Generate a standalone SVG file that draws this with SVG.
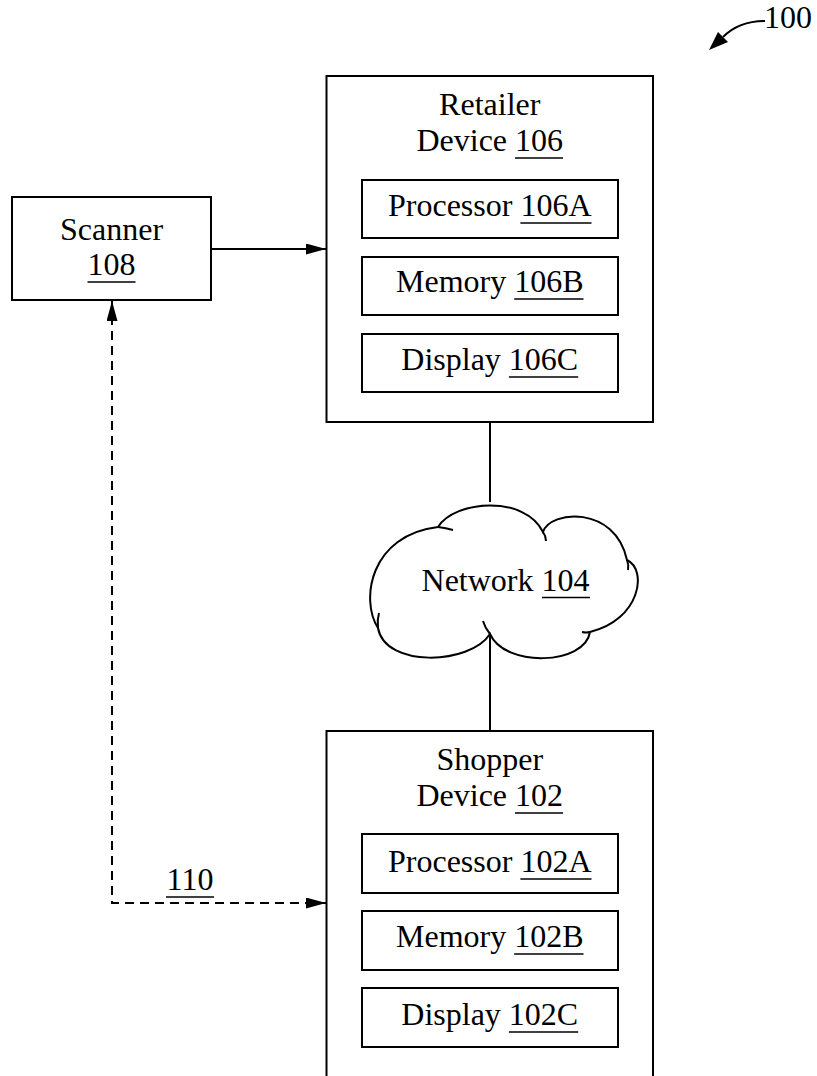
<svg xmlns="http://www.w3.org/2000/svg" width="817" height="1076" viewBox="0 0 817 1076">
  <style>
    .box { fill: #fff; stroke: #000; stroke-width: 2; }
    .ln { fill: none; stroke: #000; stroke-width: 2; }
    .dash { fill: none; stroke: #000; stroke-width: 2; stroke-dasharray: 9 6; }
    .ul { stroke: #000; stroke-width: 1.6; }
    text { font-family: "Liberation Serif", "Times New Roman", serif; font-size: 32px; fill: #000; }
    .c { text-anchor: middle; }
  </style>
  <defs>
    <marker id="arrow" viewBox="0 0 20 11" refX="20" refY="5.5" markerWidth="20" markerHeight="11" markerUnits="userSpaceOnUse" orient="auto-start-reverse">
      <path d="M0,0 L20,5.5 L0,11 Z" fill="#000"/>
    </marker>
  </defs>

  <!-- figure reference label -->
  <g id="ref-100">
    <text x="764" y="28">100</text>
    <path class="ln" d="M765,21 C746,21 733,27 723,37"/>
    <path d="M709,50 L718,32 L728,42 Z" fill="#000"/>
  </g>

  <!-- connectors -->
  <g id="connectors">
    <path class="ln" d="M211,249 L326,249" marker-end="url(#arrow)"/>
    <path class="ln" d="M490,422 L490,502"/>
    <path class="ln" d="M490,634 L490,731"/>
    <path class="dash" d="M112,301 L112,903 L326,903" marker-start="url(#arrow)" marker-end="url(#arrow)"/>
    <text class="c" x="190" y="890">110</text>
    <line class="ul" x1="166" y1="897" x2="214" y2="897"/>
  </g>

  <!-- scanner -->
  <g id="scanner-108">
    <rect class="box" x="12" y="197" width="199" height="103"/>
    <text class="c" x="111.5" y="240">Scanner</text>
    <text class="c" x="111.5" y="275">108</text>
    <line class="ul" x1="87.5" y1="282" x2="135.5" y2="282"/>
  </g>

  <!-- retailer device -->
  <g id="retailer-device-106">
    <rect class="box" x="326.5" y="76" width="326.5" height="346"/>
    <text class="c" x="489.75" y="115">Retailer</text>
    <text class="c" x="489.75" y="151">Device 106</text>
    <line class="ul" x1="515" y1="158" x2="563" y2="158"/>
  </g>
  <g id="processor-106A">
    <rect class="box" x="362" y="180" width="256" height="58"/>
    <text class="c" x="489.75" y="216">Processor 106A</text>
    <line class="ul" x1="520.4" y1="223" x2="591.5" y2="223"/>
  </g>
  <g id="memory-106B">
    <rect class="box" x="362" y="257" width="256" height="58"/>
    <text class="c" x="489.75" y="292">Memory 106B</text>
    <line class="ul" x1="514.2" y1="299" x2="583.5" y2="299"/>
  </g>
  <g id="display-106C">
    <rect class="box" x="362" y="334" width="256" height="58"/>
    <text class="c" x="489.75" y="370">Display 106C</text>
    <line class="ul" x1="508.9" y1="377" x2="578.2" y2="377"/>
  </g>

  <!-- network cloud -->
  <g id="network-104">
    <path class="box" d="M438,527 C455,500 525,495 543,532 C550,510 615,505 627,560 C648,570 640,620 590,632 C585,665 505,668 490,634 C470,665 385,668 378,628 C360,600 370,535 438,527 Z"/>
    <path class="ln" d="M438,527 Q446,528 453,530"/>
    <path class="ln" d="M543,532 Q546,536 546,541"/>
    <path class="ln" d="M627,560 Q629,565 628,570"/>
    <path class="ln" d="M590,632 Q586,633 582,632"/>
    <path class="ln" d="M490,634 Q485,628 483,621"/>
    <path class="ln" d="M378,628 Q377,620 379,613"/>
    <text class="c" x="505.5" y="591">Network 104</text>
    <line class="ul" x1="542" y1="597.5" x2="590" y2="597.5"/>
  </g>

  <!-- shopper device -->
  <g id="shopper-device-102">
    <rect class="box" x="326.5" y="731" width="326.5" height="360"/>
    <text class="c" x="489.75" y="770">Shopper</text>
    <text class="c" x="489.75" y="806">Device 102</text>
    <line class="ul" x1="515" y1="813" x2="563" y2="813"/>
  </g>
  <g id="processor-102A">
    <rect class="box" x="362" y="834" width="256" height="59"/>
    <text class="c" x="489.75" y="872">Processor 102A</text>
    <line class="ul" x1="520.4" y1="879" x2="591.5" y2="879"/>
  </g>
  <g id="memory-102B">
    <rect class="box" x="362" y="911" width="256" height="59"/>
    <text class="c" x="489.75" y="947">Memory 102B</text>
    <line class="ul" x1="514.2" y1="954" x2="583.5" y2="954"/>
  </g>
  <g id="display-102C">
    <rect class="box" x="362" y="988" width="256" height="59"/>
    <text class="c" x="489.75" y="1025">Display 102C</text>
    <line class="ul" x1="508.9" y1="1032" x2="578.2" y2="1032"/>
  </g>
</svg>
